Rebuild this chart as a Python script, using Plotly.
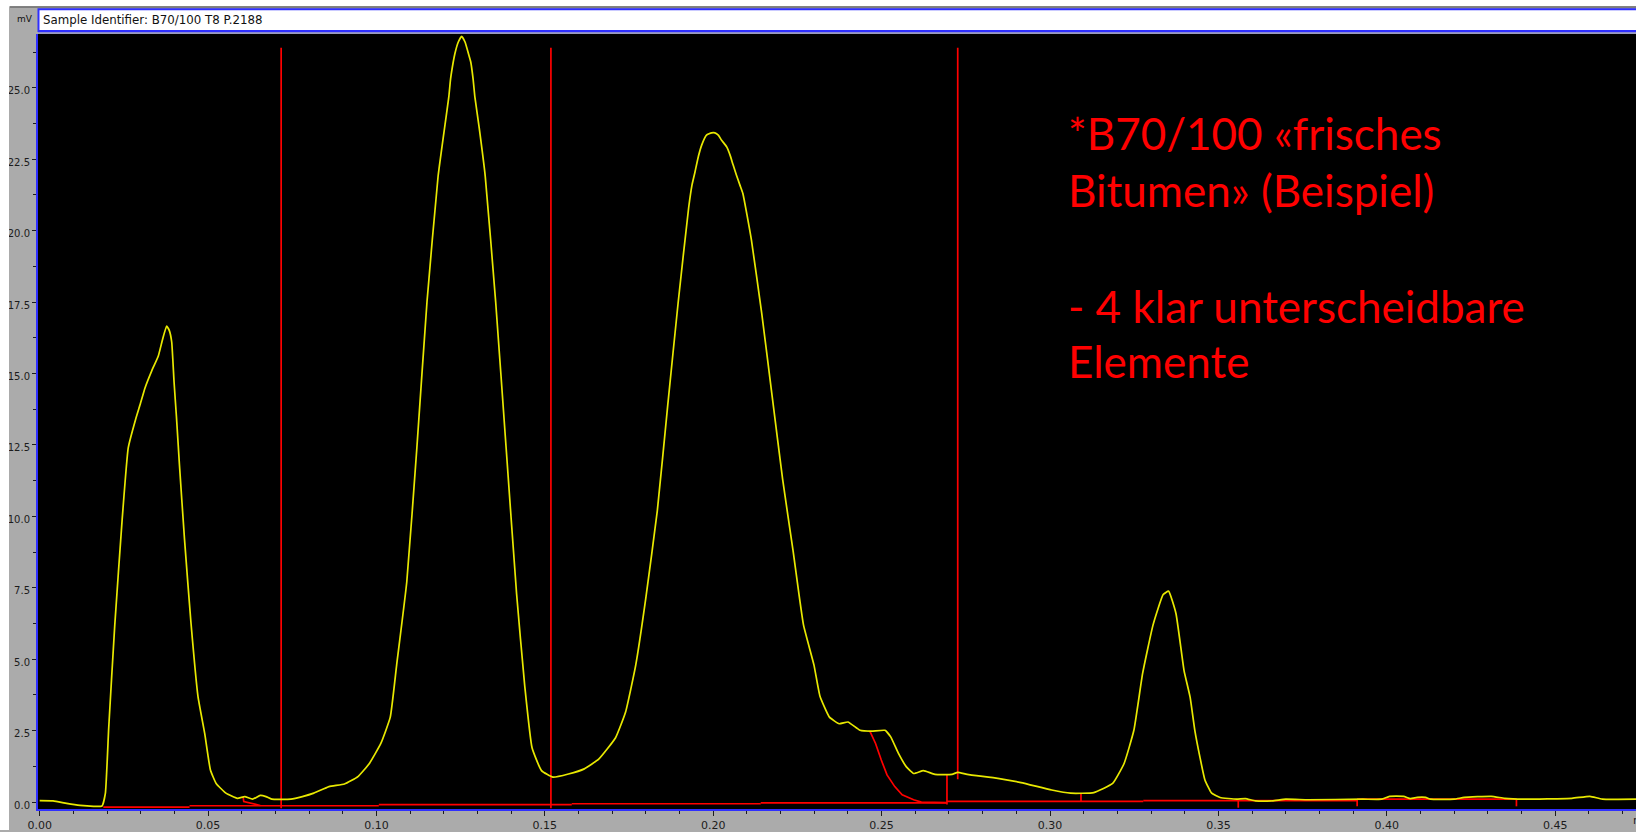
import plotly.graph_objects as go

# ---- chromatogram: retention time (min) vs detector signal (mV) ----
time_min = [
    0.000, 0.004, 0.008, 0.012, 0.016, 0.0185, 0.0195, 0.0205, 0.0223, 0.0245,
    0.0263, 0.0285, 0.0298, 0.0313, 0.0333, 0.0352, 0.0365, 0.0377, 0.0385, 0.0392,
    0.0399, 0.0406, 0.0415, 0.0430, 0.0449, 0.0470, 0.0490, 0.0507, 0.0524, 0.0553,
    0.0587, 0.0609, 0.0632, 0.0655, 0.0672, 0.0689, 0.0746, 0.0780, 0.0814, 0.0859,
    0.0905, 0.0945, 0.0979, 0.1013, 0.1041, 0.1060, 0.1090, 0.1120, 0.1150, 0.1183,
    0.1215, 0.1220, 0.1228, 0.1233, 0.1243, 0.1253, 0.1263, 0.1273, 0.1280, 0.1287,
    0.1292, 0.1305, 0.1323, 0.1354, 0.1385, 0.1416, 0.1440, 0.1462, 0.1490, 0.1524,
    0.1570, 0.1617, 0.1660, 0.1710, 0.1740, 0.1770, 0.1800, 0.1834, 0.1865, 0.1896,
    0.1927, 0.1937, 0.1946, 0.1956, 0.1966, 0.1980, 0.1995, 0.2005, 0.2015, 0.2025,
    0.2040, 0.2050, 0.2059, 0.2069, 0.2079, 0.2088, 0.2113, 0.2144, 0.2175, 0.2206,
    0.2237, 0.2268, 0.2299, 0.2317, 0.2345, 0.2374, 0.2400, 0.2436, 0.2470, 0.2510,
    0.2527, 0.2550, 0.2573, 0.2595, 0.2624, 0.2658, 0.2709, 0.2726, 0.2754, 0.2845,
    0.2914, 0.3005, 0.3061, 0.3130, 0.3186, 0.3220, 0.3249, 0.3275, 0.3306, 0.3336,
    0.3352, 0.3374, 0.3398, 0.3416, 0.3430, 0.3445, 0.3460, 0.3480, 0.3505, 0.3554,
    0.3580, 0.3610, 0.3660, 0.3700, 0.3766, 0.3929, 0.3985, 0.4008, 0.4050, 0.4070,
    0.4090, 0.4115, 0.4130, 0.4200, 0.4230, 0.4310, 0.4350, 0.4405, 0.4550, 0.4603,
    0.4640, 0.4750,
]
signal_mv = [
    0.05, 0.04, -0.05, -0.12, -0.15, -0.14, 0.30, 2.60, 6.20, 9.90,
    12.40, 13.40, 13.90, 14.50, 15.10, 15.60, 16.20, 16.66, 16.50, 16.10,
    14.70, 13.50, 11.80, 9.20, 6.30, 3.70, 2.40, 1.12, 0.65, 0.31,
    0.13, 0.19, 0.10, 0.23, 0.19, 0.10, 0.10, 0.19, 0.31, 0.54,
    0.63, 0.89, 1.35, 2.05, 2.97, 4.80, 7.70, 12.40, 17.50, 21.90,
    24.70, 25.30, 25.90, 26.20, 26.60, 26.80, 26.60, 26.20, 25.90, 25.30,
    24.70, 23.60, 21.90, 17.50, 12.40, 7.30, 4.10, 1.90, 1.10, 0.87,
    0.98, 1.16, 1.50, 2.25, 3.16, 4.80, 7.15, 10.20, 13.90, 17.50,
    20.80, 21.60, 22.06, 22.60, 23.00, 23.34, 23.42, 23.42, 23.34, 23.16,
    22.93, 22.64, 22.30, 21.94, 21.60, 21.30, 19.70, 17.10, 14.20, 11.30,
    8.80, 6.20, 4.80, 3.70, 2.97, 2.74, 2.80, 2.51, 2.48, 2.51,
    2.28, 1.70, 1.24, 1.00, 1.10, 0.97, 0.97, 1.04, 0.97, 0.83,
    0.68, 0.42, 0.31, 0.33, 0.65, 1.35, 2.51, 4.50, 6.20, 7.26,
    7.38, 6.60, 4.60, 3.67, 2.51, 1.58, 0.77, 0.31, 0.16, 0.10,
    0.12, 0.04, 0.04, 0.10, 0.08, 0.10, 0.10, 0.20, 0.20, 0.12,
    0.16, 0.16, 0.10, 0.10, 0.16, 0.20, 0.13, 0.10, 0.13, 0.20,
    0.10, 0.10,
]

# ---- integration events ----
# baseline pieces: start time, end time, level (mV)
base_start = [0.0189, 0.0445, 0.1007, 0.1580, 0.2141, 0.2694, 0.3277, 0.3912]
base_end = [0.0445, 0.1007, 0.1580, 0.2141, 0.2694, 0.3277, 0.3912, 0.4385]
base_level = [-0.18, -0.13, -0.09, -0.06, -0.03, 0.02, 0.05, 0.10]

# full-height separation markers
marker_time = [0.0717, 0.1518, 0.2726]
marker_low = [-0.22, -0.22, 0.80]
marker_top = 26.4

# short drop lines at peak start/end
drop_time = [0.2694, 0.3092, 0.3559, 0.3912, 0.4385]
drop_high = [0.97, 0.31, 0.05, 0.10, 0.10]
drop_low = [-0.09, 0.00, -0.20, -0.15, -0.15]

# tangent skim below the shoulder near 0.25 min
skim_time = [0.2465, 0.2482, 0.2499, 0.2516, 0.2539, 0.2561, 0.2595, 0.2618, 0.2694]
skim_mv = [2.48, 2.05, 1.47, 0.95, 0.54, 0.25, 0.08, 0.00, -0.02]

# small skim at the first valley
valley_time = [0.0604, 0.0606, 0.0655]
valley_mv = [0.18, 0.02, -0.12]

# ---- axis ticks ----
x_tick_vals = [0.00, 0.05, 0.10, 0.15, 0.20, 0.25, 0.30, 0.35, 0.40, 0.45]
x_tick_text = ["0.00", "0.05", "0.10", "0.15", "0.20", "0.25", "0.30", "0.35", "0.40", "0.45"]
y_tick_vals = [0.0, 2.5, 5.0, 7.5, 10.0, 12.5, 15.0, 17.5, 20.0, 22.5, 25.0]
y_tick_text = ["0.0", "2.5", "5.0", "7.5", "10.0", "12.5", "15.0", "17.5", "20.0", "22.5", "25.0"]

header_text = "Sample Identifier: B70/100 T8 P.2188"
note_lines = ["*B70/100 «frisches", "Bitumen» (Beispiel)", "- 4 klar unterscheidbare", "Elemente"]

# ---- page geometry (pixels) ----
W, H = 1636, 832
L, R, T, B = 38, 1636, 34, 813
GRAY = "#ababab"
BLUE = "#2f2fff"
RED = "#ff0000"
YELLOW = "#e8e800"
TICK = "#1c1c1c"


def px_x(px):
    return (px - L) / (R - L)


def px_y(py):
    return (B - py) / (B - T)


# red integration marks collected into one polyline with gaps
red_x, red_y = [], []
for s, e, lv in zip(base_start, base_end, base_level):
    red_x += [s, e, None]
    red_y += [lv, lv, None]
for t, lo in zip(marker_time, marker_low):
    red_x += [t, t, None]
    red_y += [marker_top, lo, None]
for t, hi, lo in zip(drop_time, drop_high, drop_low):
    red_x += [t, t, None]
    red_y += [hi, lo, None]
red_x += skim_time + [None] + valley_time
red_y += skim_mv + [None] + valley_mv

fig = go.Figure()
fig.add_trace(go.Scatter(
    x=red_x, y=red_y, mode="lines", line=dict(color=RED, width=1.7),
    connectgaps=False, hoverinfo="skip",
))
fig.add_trace(go.Scatter(
    x=time_min, y=signal_mv, mode="lines",
    line=dict(color=YELLOW, width=1.7, shape="spline", smoothing=0.4),
))

shapes = [
    # white page strips (top and left edge)
    dict(type="rect", xref="paper", yref="paper", x0=px_x(-2), x1=px_x(W + 5),
         y0=px_y(-2), y1=px_y(6), fillcolor="white", line=dict(width=0), layer="above"),
    dict(type="rect", xref="paper", yref="paper", x0=px_x(10), x1=px_x(W + 5),
         y0=px_y(6), y1=px_y(7.5), fillcolor="#6e6e6e", line=dict(width=0), layer="above"),
    dict(type="rect", xref="paper", yref="paper", x0=px_x(-2), x1=px_x(9),
         y0=px_y(H + 2), y1=px_y(-2), fillcolor="white", line=dict(width=0), layer="above"),
    # header box
    dict(type="rect", xref="paper", yref="paper", x0=px_x(38.5), x1=px_x(W + 10),
         y0=px_y(31), y1=px_y(9), fillcolor="white", line=dict(color=BLUE, width=2),
         layer="below"),
    dict(type="rect", xref="paper", yref="paper", x0=px_x(38), x1=px_x(W + 10),
         y0=px_y(33.5), y1=px_y(32), fillcolor="#8c8cd0", line=dict(width=0),
         layer="below"),
]

annotations = [
    dict(xref="paper", yref="paper", x=px_x(25), y=px_y(19), text="mV",
         showarrow=False, xanchor="center", yanchor="middle",
         font=dict(family="DejaVu Sans", size=9, color="#111111")),
    dict(xref="paper", yref="paper", x=px_x(41), y=px_y(19.5), text=header_text,
         showarrow=False, xanchor="left", yanchor="middle",
         font=dict(family="DejaVu Sans", size=11.8, color="#111111")),
    dict(xref="paper", yref="paper", x=px_x(1631), y=px_y(825), text="min",
         showarrow=False, xanchor="left", yanchor="middle",
         font=dict(family="DejaVu Sans", size=11, color=TICK)),
]

# red note, one annotation per text line, placed by baseline
note_baselines = [150.7, 208.3, 324.0, 380.0]
note_size = 44
for line, base in zip(note_lines, note_baselines):
    annotations.append(dict(
        xref="paper", yref="paper", x=px_x(1066), y=px_y(base - 0.387 * note_size),
        text=line, showarrow=False, xanchor="left", yanchor="middle",
        font=dict(family="Lato", size=note_size, color=RED),
    ))

fig.update_layout(
    width=W, height=H,
    margin=dict(l=L, r=W - R, t=T, b=H - B, pad=0),
    paper_bgcolor=GRAY, plot_bgcolor="black",
    showlegend=False,
    shapes=shapes, annotations=annotations,
    xaxis=dict(
        range=[-0.0005, 0.4740], tickvals=x_tick_vals, ticktext=x_tick_text,
        ticks="outside", ticklen=5, tickwidth=1, tickcolor=TICK,
        minor=dict(dtick=0.01, tick0=0, ticks="outside", ticklen=3, tickwidth=1,
                   tickcolor=TICK, showgrid=False),
        showgrid=False, zeroline=False, showline=True, linecolor=BLUE, linewidth=2,
        tickfont=dict(family="DejaVu Sans", size=11, color=TICK),
    ),
    yaxis=dict(
        range=[-0.244, 26.88], tickvals=y_tick_vals, ticktext=y_tick_text,
        ticks="outside", ticklen=4, tickwidth=1, tickcolor=TICK,
        minor=dict(dtick=1.25, tick0=0, ticks="outside", ticklen=3, tickwidth=1,
                   tickcolor=TICK, showgrid=False),
        showgrid=False, zeroline=False, showline=True, linecolor=BLUE, linewidth=2,
        tickfont=dict(family="DejaVu Sans", size=10, color=TICK),
        ticklabelshift=3,
    ),
)

fig.write_html("out.html", config={"displayModeBar": False})
